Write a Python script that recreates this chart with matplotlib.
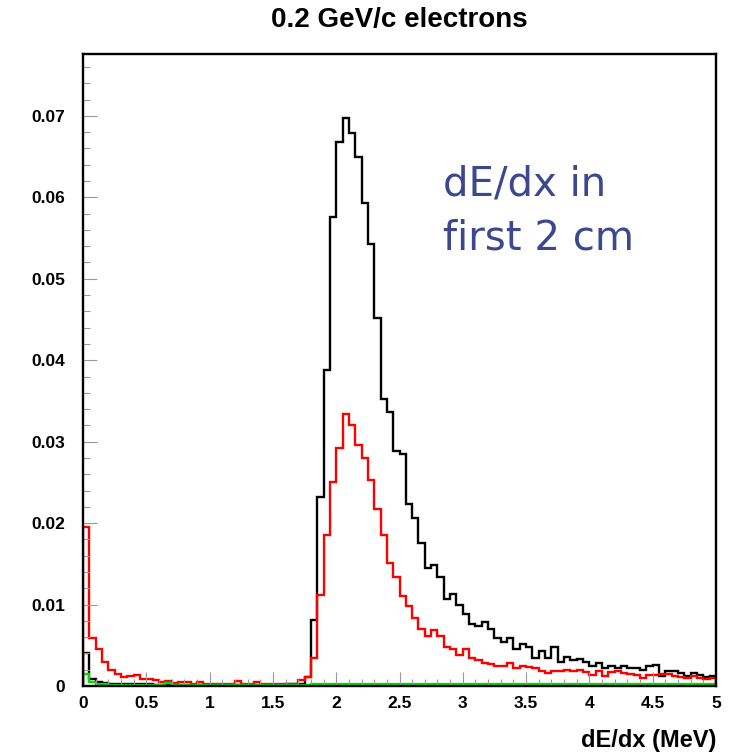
import matplotlib
matplotlib.use("Agg")
import matplotlib.pyplot as plt
import numpy as np

# 100 bins of 0.05 MeV between 0 and 5 MeV
edges = np.linspace(0.0, 5.0, 101)

black = [
    0.0040, 0.0008, 0.0005, 0.0004, 0.0003, 0.0003, 0.0002, 0.0002, 0.0002, 0.0002,
    0.0002, 0.0001, 0.0001, 0.0002, 0.0001, 0.0001, 0.0001, 0.0001, 0.0001, 0.0001,
    0.0001, 0.0001, 0.0001, 0.0001, 0.0001, 0.0001, 0.0001, 0.0001, 0.0001, 0.0001,
    0.0001, 0.0001, 0.0002, 0.0002, 0.0002, 0.0011, 0.0081, 0.0232, 0.0388, 0.0576,
    0.0668, 0.0698, 0.0679, 0.0650, 0.0593, 0.0543, 0.0452, 0.0353, 0.0336, 0.0288,
    0.0285, 0.0224, 0.0206, 0.0175, 0.0145, 0.0149, 0.0134, 0.0107, 0.0113, 0.0100,
    0.0089, 0.0076, 0.0074, 0.0079, 0.0070, 0.0059, 0.0054, 0.0059, 0.0046, 0.0051,
    0.0048, 0.0034, 0.0043, 0.0034, 0.0048, 0.0029, 0.0035, 0.0032, 0.0033, 0.0030,
    0.0025, 0.0028, 0.0022, 0.0025, 0.0022, 0.0024, 0.0022, 0.0022, 0.0020, 0.0024,
    0.0026, 0.0012, 0.0018, 0.0019, 0.0016, 0.0012, 0.0016, 0.0014, 0.0011, 0.0012,
]

red = [
    0.0195, 0.0059, 0.0046, 0.0030, 0.0020, 0.0015, 0.0011, 0.0012, 0.0014, 0.0008,
    0.0008, 0.0007, 0.0005, 0.0006, 0.0004, 0.0005, 0.0005, 0.0003, 0.0005, 0.0003,
    0.0003, 0.0003, 0.0002, 0.0002, 0.0006, 0.0003, 0.0002, 0.0005, 0.0002, 0.0002,
    0.0002, 0.0002, 0.0002, 0.0002, 0.0007, 0.0011, 0.0034, 0.0112, 0.0185, 0.0250,
    0.0292, 0.0334, 0.0320, 0.0296, 0.0280, 0.0253, 0.0217, 0.0185, 0.0151, 0.0134,
    0.0110, 0.0098, 0.0083, 0.0070, 0.0061, 0.0069, 0.0061, 0.0048, 0.0045, 0.0038,
    0.0045, 0.0034, 0.0032, 0.0028, 0.0027, 0.0025, 0.0024, 0.0028, 0.0022, 0.0025,
    0.0023, 0.0022, 0.0019, 0.0016, 0.0019, 0.0018, 0.0020, 0.0018, 0.0020, 0.0017,
    0.0014, 0.0018, 0.0012, 0.0017, 0.0018, 0.0016, 0.0015, 0.0014, 0.0010, 0.0014,
    0.0014, 0.0015, 0.0015, 0.0012, 0.0011, 0.0010, 0.0012, 0.0010, 0.0008, 0.0010,
]

green = [
    0.0015, 0.0005, 0.0003, 0.0002, 0.0001, 0.0001, 0.0001, 0.0001, 0.0001, 0.0001,
    0.0001, 0.0001, 0.0001, 0.0004, 0.0001, 0.0001, 0.0001, 0.0001, 0.0001, 0.0001,
    0.0001, 0.0001, 0.0001, 0.0001, 0.0001, 0.0001, 0.0001, 0.0001, 0.0001, 0.0001,
    0.0001, 0.0001, 0.0001, 0.0001, 0.0001, 0.0001, 0.0002, 0.0003, 0.0003, 0.0002,
    0.0002, 0.0002, 0.0002, 0.0003, 0.0002, 0.0002, 0.0002, 0.0002, 0.0002, 0.0002,
    0.0002, 0.0002, 0.0002, 0.0002, 0.0002, 0.0002, 0.0002, 0.0002, 0.0002, 0.0002,
    0.0002, 0.0002, 0.0002, 0.0002, 0.0002, 0.0002, 0.0002, 0.0002, 0.0002, 0.0002,
    0.0002, 0.0002, 0.0002, 0.0002, 0.0002, 0.0002, 0.0002, 0.0002, 0.0002, 0.0002,
    0.0002, 0.0002, 0.0002, 0.0002, 0.0002, 0.0002, 0.0002, 0.0002, 0.0002, 0.0002,
    0.0002, 0.0002, 0.0002, 0.0002, 0.0002, 0.0002, 0.0002, 0.0002, 0.0002, 0.0002,
]

xticks = [0, 0.5, 1, 1.5, 2, 2.5, 3, 3.5, 4, 4.5, 5]
xticklabels = ["0", "0.5", "1", "1.5", "2", "2.5", "3", "3.5", "4", "4.5", "5"]
yticks = [0, 0.01, 0.02, 0.03, 0.04, 0.05, 0.06, 0.07]
yticklabels = ["0", "0.01", "0.02", "0.03", "0.04", "0.05", "0.06", "0.07"]

plt.rcParams["font.family"] = ["Liberation Sans", "DejaVu Sans"]

fig = plt.figure(figsize=(7.4, 7.56), dpi=100)
ax = fig.add_axes([0.11216, 0.09259, 0.85541, 0.83598])

ax.stairs(black, edges, color="black", linewidth=1.7)
ax.stairs(red, edges, color="#ff0000", linewidth=1.7)
ax.stairs(green, edges, color="#00e000", linewidth=1.7)

ax.set_xlim(0, 5)
ax.set_ylim(0, 0.0776)

ax.set_xticks(xticks)
ax.set_xticklabels(xticklabels, fontweight="bold", fontsize=12.5)
ax.set_xticks(np.arange(0, 5.001, 0.1), minor=True)
ax.set_yticks(yticks)
ax.set_yticklabels(yticklabels, fontweight="bold", fontsize=12.5)
ax.set_yticks(np.arange(0, 0.0776, 0.002), minor=True)

ax.tick_params(which="both", direction="in", color="#999999", width=0.8,
               top=False, right=False)
ax.tick_params(which="major", length=10)
ax.tick_params(which="minor", length=5)
ax.tick_params(axis="y", which="major", pad=13)
ax.tick_params(axis="x", which="major", pad=7)

for s in ax.spines.values():
    s.set_linewidth(1.7)
    s.set_color("black")

fig.text(0.5395, 0.973, "0.2 GeV/c electrons", ha="center", va="center",
         fontsize=20, fontweight="bold")
fig.text(0.9676, 0.021, "dE/dx (MeV)", ha="right", va="center",
         fontsize=17, fontweight="bold")

ax.text(0.5687, 0.7769, "dE/dx in", transform=ax.transAxes,
        ha="left", va="baseline", fontsize=29, color="#3b4890",
        family=["DejaVu Sans"])
ax.text(0.5687, 0.6899, "first 2 cm", transform=ax.transAxes,
        ha="left", va="baseline", fontsize=29, color="#3b4890",
        family=["DejaVu Sans"])

fig.savefig("out.png", dpi=100)
